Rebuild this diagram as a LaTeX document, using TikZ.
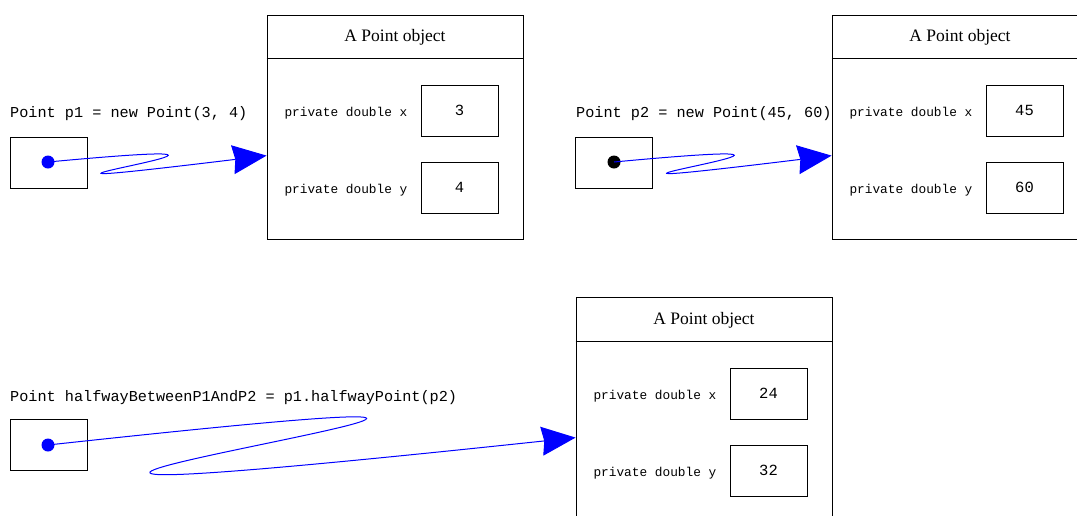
\documentclass[tikz,border=0pt]{standalone}
\usepackage{fontspec}
\setmainfont{Liberation Serif}
\setmonofont{Liberation Mono}
\usetikzlibrary{arrows.meta,positioning,calc}

\begin{document}
\begin{tikzpicture}[x=1pt,y=-1pt,
    objbox/.style={draw, line width=0.8pt, minimum width=256pt, minimum height=224pt, inner sep=0pt},
    valbox/.style={draw, line width=0.8pt, minimum width=77pt, minimum height=51pt, inner sep=0pt, font=\fontsize{15.5}{18}\selectfont\ttfamily},
    refbox/.style={draw, line width=0.8pt, minimum width=77pt, minimum height=51pt, inner sep=0pt},
    field/.style={inner sep=0pt, yshift=-2.5pt, font=\fontsize{12.8}{15}\selectfont\ttfamily},
    code/.style={inner sep=0pt, anchor=west, font=\fontsize{15.2}{18}\selectfont\ttfamily},
    title/.style={inner sep=0pt, font=\fontsize{17.5}{20}\selectfont},
    dot/.style={circle, fill, inner sep=0pt, minimum size=13pt},
    ptr/.style={blue, line width=1pt, -{Stealth[length=34pt,width=29pt,inset=2.5pt]}}]
    \useasboundingbox (0,0) rectangle (1077,515);

    % first object
    \node[objbox] (obj1) at (395,127) {};
    \node[title] (t1) at (395,37) {A Point object};
    \draw[line width=0.8pt] ($(obj1.north west)+(0,44)$) -- ($(obj1.north east)+(0,44)$);
    \node[valbox] (x1) at (459.5,110.5) {3};
    \node[field, left=13pt of x1] {private double x};
    \node[valbox] (y1) at (459.5,187.5) {4};
    \node[field, left=13pt of y1] {private double y};

    \node[code] (c1) at (10,114) {Point p1 = new Point(3, 4)};
    \node[refbox] (r1) at (48.5,162.5) {};
    \node[dot, blue] (d1) at (48,162) {};
    \coordinate (in1) at ($(obj1.north west)+(0,141)$);
    \draw[ptr] (d1.center) .. controls (380,131) and (-120,202.5) .. (in1);

    % second object
    \node[objbox] (obj2) at (960,127) {};
    \node[title] (t2) at (960,37) {A Point object};
    \draw[line width=0.8pt] ($(obj2.north west)+(0,44)$) -- ($(obj2.north east)+(0,44)$);
    \node[valbox] (x2) at (1024.5,110.5) {45};
    \node[field, left=13pt of x2] {private double x};
    \node[valbox] (y2) at (1024.5,187.5) {60};
    \node[field, left=13pt of y2] {private double y};

    \node[code] (c2) at (576,114) {Point p2 = new Point(45, 60)};
    \node[refbox] (r2) at (613.5,162.5) {};
    \node[dot, black] (d2) at (614,162) {};
    \coordinate (in2) at ($(obj2.north west)+(0,141)$);
    \draw[ptr] (d2.center) .. controls (946,131) and (446,202.5) .. (in2);

    % halfway object
    \node[objbox] (obj3) at (704,409) {};
    \node[title] (t3) at (704,320) {A Point object};
    \draw[line width=0.8pt] ($(obj3.north west)+(0,45)$) -- ($(obj3.north east)+(0,45)$);
    \node[valbox] (x3) at (768.5,393.5) {24};
    \node[field, left=13pt of x3] {private double x};
    \node[valbox] (y3) at (768.5,470.5) {32};
    \node[field, left=13pt of y3] {private double y};

    \node[code] (c3) at (10,398) {Point halfwayBetweenP1AndP2 = p1.halfwayPoint(p2)};
    \node[refbox] (r3) at (48.5,444.5) {};
    \node[dot, blue] (d3) at (48,445) {};
    \coordinate (in3) at ($(obj3.north west)+(0,141)$);
    \draw[ptr] (d3.center) .. controls (966,345) and (-500,552) .. (in3);
\end{tikzpicture}
\end{document}
